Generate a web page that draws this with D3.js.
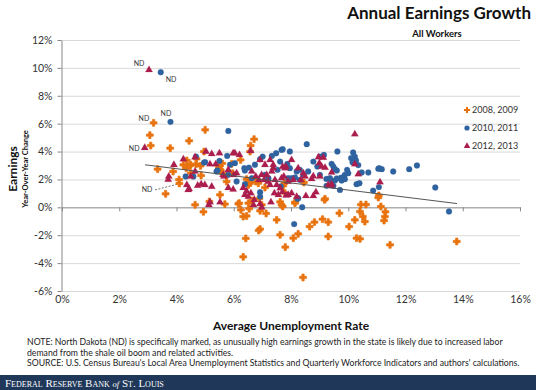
<!DOCTYPE html>
<html>
<head>
<meta charset="utf-8">
<script src="https://cdn.jsdelivr.net/npm/d3@7"></script>
<style>
  body { margin: 0; background: #fff; }
  svg { display: block; font-family: Lato, "Open Sans", sans-serif; }
</style>
</head>
<body>
<svg id="chart" width="536" height="390"></svg>
<script>
// values: [unemployment %, earnings growth %]
const pts0809 = [
  [3.2,6.06],[3.07,5.18],[3.1,4.43],[3.78,4.24],[4.44,4.77],[3.34,2.74],[3.88,2.57],[4.24,3.05],[4.5,3.05],
  [4.7,3.48],[4.34,2.81],[4.09,1.99],[4.1,1.71],[3.62,0.97],[5.0,5.56],[4.96,4.0],[6.71,4.89],[6.59,4.43],
  [6.57,4.0],[4.36,3.36],[4.68,3.1],[5.5,2.97],[5.54,2.69],[5.93,3.12],[5.96,2.45],[6.45,2.02],[6.54,1.85],
  [5.75,1.85],[5.52,0.9],[5.15,0.42],[4.65,0.18],[6.19,0.3],[6.66,0.49],[4.94,-0.32],[5.69,0.23],[6.25,-0.18],
  [6.33,-0.66],[6.45,-0.62],[6.54,-0.1],[6.51,0.3],[6.92,-0.25],[7.13,-0.44],[6.92,-1.56],[6.87,-1.66],
  [6.42,-2.23],[6.33,-3.55],[7.5,-0.9],[7.62,-1.97],[7.8,-2.85],[7.62,0.39],[8.08,-2.21],[8.25,-1.9],
  [8.42,-5.03],[8.65,-1.38],[8.82,-1.06],[9.1,-0.85],[9.3,-1.06],[9.3,-2.09],[9.17,0.54],[8.14,0.3],
  [9.69,-0.42],[10.03,-1.38],[10.23,-0.9],[10.41,-0.3],[10.51,-0.66],[10.58,-1.02],[10.29,-2.21],
  [10.41,-2.26],[10.44,0.2],[10.62,0.2],[11.14,0.06],[11.3,-0.32],[11.28,-0.66],[11.25,-0.95],[11.46,-2.69],
  [13.79,-2.45],[11.05,0.7],[6.24,3.4],[4.84,2.97],[5.55,2.57],[4.47,3.0],[4.5,2.45],[4.86,2.28],[6.51,1.6],
  [6.77,1.85],[7.09,1.42],[6.16,0.25],[6.98,0.18],[7.67,0.18],[7.73,1.54],[7.79,1.02],[8.14,0.37],[7.71,0.06],
  [9.19,0.61],[11.07,0.85],[5.75,2.33],[6.57,1.73],[6.86,1.73],[6.89,0.63],[7.77,1.73],[8.45,1.78],
  [5.48,2.85],[5.6,3.15]
];
const pts1011 = [
  [3.45,9.69],[3.79,6.13],[4.68,3.64],[4.32,2.21],[4.59,2.21],[5.81,5.48],[8.55,4.53],[4.96,3.21],[5.43,2.64],
  [5.5,3.33],[5.77,3.69],[6.04,3.17],[6.39,2.64],[6.53,2.85],[6.92,3.45],[7.01,3.64],[7.33,3.69],[7.48,3.88],
  [7.67,4.12],[7.96,4.0],[7.62,3.28],[7.87,3.12],[7.96,2.81],[8.2,2.57],[7.53,2.69],[7.09,2.33],[6.92,1.09],
  [7.64,1.49],[8.14,2.14],[8.31,1.97],[8.25,0.66],[8.39,0.01],[8.78,3.28],[9.01,3.64],[9.15,3.76],[8.92,2.92],
  [9.42,3.12],[9.48,2.92],[9.53,2.74],[9.6,2.64],[9.62,4.0],[10.17,3.93],[10.23,3.64],[10.27,3.36],[10.35,3.03],
  [9.96,2.69],[10.47,2.5],[10.7,2.5],[9.42,1.92],[9.53,1.92],[9.77,1.92],[9.88,2.02],[9.24,1.54],[9.48,1.54],
  [10.87,1.2],[11.05,2.76],[11.17,2.74],[11.57,2.57],[12.13,2.74],[12.4,3.0],[11.07,1.45],[13.04,1.42],
  [13.52,-0.3],[8.11,-1.2],[8.23,0.61],[5.0,3.24],[5.4,2.57],[5.81,2.33],[6.37,2.81],[6.74,3.05],[6.63,2.09],
  [6.39,1.66],[7.71,4.17],[10.1,3.53],[10.15,3.24],[11.08,2.81],[9.88,2.33],[10.0,2.45],[9.6,2.07],[9.75,2.12],
  [9.24,2.04],[9.36,2.09],[9.01,2.33],[8.6,2.57],[8.31,2.69],[8.43,2.33],[7.9,2.09],[8.02,2.09],[10.29,1.66],
  [10.39,1.73],[9.71,1.25],[6.1,1.85],[7.21,2.09],[6.92,0.77],[5.87,3.05]
];
const pts1213 = [
  [3.04,9.86],[2.89,4.27],[3.91,3.05],[4.24,3.45],[3.73,2.21],[3.71,1.99],[4.65,2.57],[4.36,1.61],[4.41,1.25],
  [10.23,5.25],[4.65,3.6],[5.03,4.0],[5.23,3.83],[5.5,3.88],[5.98,3.88],[6.59,4.05],[6.92,3.4],[5.17,3.1],
  [5.37,3.1],[5.81,2.69],[6.0,2.33],[6.1,2.45],[4.5,2.21],[4.86,1.66],[4.74,1.56],[4.99,1.61],[5.23,1.49],
  [4.44,1.33],[5.63,2.33],[5.66,2.21],[6.63,2.57],[6.77,2.21],[6.88,1.97],[6.97,2.33],[7.15,2.33],[7.06,1.97],
  [7.2,1.85],[7.38,2.81],[6.39,0.9],[6.51,0.77],[6.6,1.02],[6.72,0.54],[6.69,0.18],[5.17,0.37],[5.13,0.18],
  [5.52,0.37],[7.42,1.02],[7.56,0.9],[7.3,0.37],[8.02,3.4],[8.96,3.6],[9.13,3.57],[8.99,3.17],[9.07,2.92],
  [9.19,2.85],[7.71,2.92],[7.82,2.92],[8.25,2.81],[8.43,2.45],[8.49,2.21],[8.34,1.97],[8.08,1.97],[7.9,1.85],
  [8.72,2.04],[8.78,2.23],[10.35,2.38],[10.23,3.1],[9.39,1.54],[7.75,2.21],[7.67,2.09],[8.02,1.02],[7.9,0.9],
  [8.52,0.82],[8.78,0.82],[8.87,1.09],[7.27,3.4],[7.09,3.05],[7.38,3.05],[7.79,2.81],[7.33,2.57],[7.44,1.97],
  [7.5,1.61],[7.62,1.37],[7.27,1.61],[7.7,1.1],[7.83,0.85],[6.45,1.16],[6.33,1.4],[5.81,1.4],[5.98,1.28],
  [6.92,0.25],[6.98,0.0],[6.2,3.76],[6.04,3.88],[11.11,1.81],[9.3,1.61],[9.42,1.66],[8.2,0.77],[9.42,2.5],[9.01,2.21]
];

const seriesNames = ["2008, 2009", "2010, 2011", "2012, 2013"];
const xTicks = [0, 2, 4, 6, 8, 10, 12, 14, 16];
const yTicks = [-6, -4, -2, 0, 2, 4, 6, 8, 10, 12];
const trendLine = [[2.9, 3.05], [13.8, 0.27]];
// North Dakota callouts, label anchors in data units
const ndLabels = [[2.69, 10.29], [3.81, 9.14], [2.86, 6.34], [3.63, 6.7], [2.52, 4.19], [2.97, 1.25]];
const ndLeader = [[3.25, 1.25], [3.98, 1.63]];

const titleText = "Annual Earnings Growth";
const subtitleText = "All Workers";
const xTitle = "Average Unemployment Rate";
const yTitle = "Earnings";
const yTitle2 = "Year-Over-Year Change";
const noteLines = [
  "NOTE: North Dakota (ND) is specifically marked, as unusually high earnings growth in the state is likely due to increased labor",
  "demand from the shale oil boom and related activities.",
  "SOURCE: U.S. Census Bureau's Local Area Unemployment Statistics and Quarterly Workforce Indicators and authors' calculations."
];

const colors = ["#e8720e", "#2f63a0", "#ab1d4d"];
const symbols = [d3.symbolCross, d3.symbolCircle, d3.symbolTriangle];
const symSizes = [26, 27, 23];

const svg = d3.select("#chart");
svg.append("rect").attr("width", 536).attr("height", 390).attr("fill", "#fff");

const x = d3.scaleLinear().domain([0, 16]).range([62, 520]);
const y = d3.scaleLinear().domain([-6, 12]).range([291, 40]);

// gridlines
svg.append("g")
  .attr("transform", "translate(62,0)")
  .call(d3.axisLeft(y).tickValues(yTicks.filter(d => d !== 0)).tickSize(-(x(16) - x(0))).tickFormat(""))
  .call(g => g.select(".domain").remove())
  .selectAll("line").attr("stroke", "#d9d9d9");

// x axis line at 0 with ticks
svg.append("g")
  .attr("transform", `translate(0,${y(0)})`)
  .call(d3.axisBottom(x).tickValues(xTicks).tickSize(4).tickSizeOuter(0).tickFormat(""))
  .call(g => g.selectAll("path, line").attr("stroke", "#868686"));

// x labels under the plot
svg.append("g")
  .attr("transform", `translate(0,${y(-6)})`)
  .call(d3.axisBottom(x).tickValues(xTicks).tickSize(0).tickPadding(5).tickFormat(d => d + "%"))
  .call(g => g.select(".domain").remove())
  .selectAll("text")
  .attr("font-family", "Lato, sans-serif")
  .attr("font-size", "10.5px")
  .attr("fill", "#333");

// y axis
svg.append("g")
  .attr("transform", "translate(61.5,0)")
  .call(d3.axisLeft(y).tickValues(yTicks).tickSize(4).tickSizeOuter(0).tickPadding(5).tickFormat(d => d + "%"))
  .call(g => g.selectAll("path, line").attr("stroke", "#868686"))
  .selectAll("text")
  .attr("font-family", "Lato, sans-serif")
  .attr("font-size", "10.5px")
  .attr("fill", "#333");

// points
[pts0809, pts1011, pts1213].forEach(function (pts, i) {
  svg.append("g")
    .selectAll("path")
    .data(pts)
    .enter().append("path")
    .attr("transform", d => `translate(${x(d[0])},${y(d[1])})`)
    .attr("d", d3.symbol().type(symbols[i]).size(symSizes[i]))
    .attr("fill", colors[i])
    .attr("stroke", colors[i])
    .attr("stroke-width", i === 0 ? 0.7 : 0.2)
    .attr("stroke-linejoin", "round");
});

// trend line
svg.append("path")
  .attr("d", d3.line().x(d => x(d[0])).y(d => y(d[1]))(trendLine))
  .attr("stroke", "#555")
  .attr("stroke-width", 1)
  .attr("fill", "none");

// ND labels
svg.append("g")
  .selectAll("text")
  .data(ndLabels)
  .enter().append("text")
  .attr("x", d => x(d[0]))
  .attr("y", d => y(d[1]) + 2.5)
  .attr("text-anchor", "middle")
  .attr("font-size", "7px")
  .attr("fill", "#333")
  .text("ND");

svg.append("path")
  .attr("d", d3.line().x(d => x(d[0])).y(d => y(d[1]))(ndLeader))
  .attr("stroke", "#555")
  .attr("stroke-width", 0.8)
  .attr("stroke-dasharray", "2,1.5")
  .attr("fill", "none");

// legend
const legend = svg.append("g").attr("transform", "translate(467,110)");
seriesNames.forEach(function (name, i) {
  const row = legend.append("g").attr("transform", `translate(0,${i * 18})`);
  row.append("path")
    .attr("d", d3.symbol().type(symbols[i]).size(symSizes[i] * 0.8))
    .attr("fill", colors[i]);
  row.append("text")
    .attr("x", 5)
    .attr("y", 3)
    .attr("font-size", "9px")
    .attr("fill", "#333")
    .text(name);
});

// titles
svg.append("text")
  .attr("x", 531).attr("y", 19)
  .attr("text-anchor", "end")
  .attr("font-weight", "bold")
  .attr("font-size", "17px")
  .attr("fill", "#111")
  .text(titleText);

svg.append("text")
  .attr("x", 437).attr("y", 37)
  .attr("text-anchor", "middle")
  .attr("font-weight", "bold")
  .attr("font-size", "9.5px")
  .attr("fill", "#111")
  .text(subtitleText);

svg.append("text")
  .attr("transform", "translate(17,169) rotate(-90)")
  .attr("text-anchor", "middle")
  .attr("font-weight", "bold")
  .attr("font-size", "12px")
  .attr("fill", "#111")
  .text(yTitle);

svg.append("text")
  .attr("transform", "translate(27.5,169) rotate(-90)")
  .attr("text-anchor", "middle")
  .attr("font-weight", "bold")
  .attr("font-size", "7.5px")
  .attr("fill", "#111")
  .text(yTitle2);

svg.append("text")
  .attr("x", 291).attr("y", 330)
  .attr("text-anchor", "middle")
  .attr("font-weight", "bold")
  .attr("font-size", "12px")
  .attr("fill", "#111")
  .text(xTitle);

svg.append("g")
  .selectAll("text")
  .data(noteLines)
  .enter().append("text")
  .attr("x", 27)
  .attr("y", (d, i) => 345 + i * 10.5)
  .attr("font-size", "8.7px")
  .attr("fill", "#222")
  .text(d => d);

// footer bar
svg.append("rect")
  .attr("x", 0).attr("y", 375)
  .attr("width", 536).attr("height", 15)
  .attr("fill", "#1f3859");

const foot = svg.append("text")
  .attr("x", 5).attr("y", 386.5)
  .attr("font-family", "'Liberation Serif', 'DejaVu Serif', serif")
  .attr("font-size", "11px")
  .attr("fill", "#fff")
  .style("font-variant", "small-caps");
foot.append("tspan").text("Federal Reserve Bank ");
foot.append("tspan").attr("font-style", "italic").attr("font-size", "8.5px").style("font-variant", "normal").text("of");
foot.append("tspan").text(" St. Louis");
</script>
</body>
</html>
